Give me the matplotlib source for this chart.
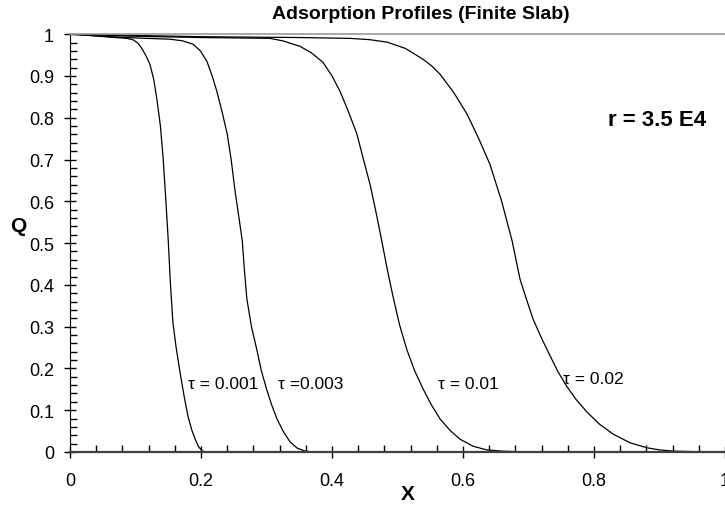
import matplotlib
matplotlib.use("Agg")
import matplotlib.pyplot as plt
from matplotlib.ticker import MultipleLocator, FuncFormatter

plt.rcParams['font.family'] = ['Liberation Sans', 'DejaVu Sans']

# profiles
x_001 = [0.0, 0.03, 0.06, 0.087, 0.097, 0.104, 0.110, 0.116, 0.122, 0.128, 0.133, 0.138, 0.142,
         0.146, 0.150, 0.153, 0.157, 0.162, 0.168, 0.174, 0.180, 0.186, 0.191, 0.196, 0.202, 0.21]
q_001 = [1.0, 0.997, 0.993, 0.99, 0.986, 0.978, 0.965, 0.948, 0.928, 0.89, 0.84, 0.78, 0.706,
         0.61, 0.505, 0.41, 0.311, 0.25, 0.19, 0.135, 0.086, 0.052, 0.031, 0.013, 0.002, 0.0]

x_003 = [0.0, 0.05, 0.10, 0.153, 0.172, 0.188, 0.199, 0.209, 0.217, 0.224, 0.232, 0.240, 0.246,
         0.252, 0.258, 0.263, 0.266, 0.270, 0.277, 0.285, 0.292, 0.300, 0.308, 0.316, 0.326,
         0.336, 0.347, 0.359, 0.37]
q_003 = [1.0, 0.995, 0.991, 0.988, 0.984, 0.976, 0.96, 0.935, 0.90, 0.864, 0.815, 0.761, 0.70,
         0.624, 0.56, 0.505, 0.44, 0.366, 0.30, 0.246, 0.195, 0.151, 0.112, 0.079, 0.048,
         0.024, 0.009, 0.002, 0.0]

x_01 = [0.0, 0.1, 0.2, 0.305, 0.325, 0.341, 0.351, 0.368, 0.386, 0.400, 0.412, 0.425, 0.438,
        0.448, 0.458, 0.467, 0.476, 0.484, 0.493, 0.503, 0.514, 0.526, 0.539, 0.552, 0.565,
        0.580, 0.595, 0.615, 0.636, 0.66, 0.70]
q_01 = [1.0, 0.995, 0.992, 0.99, 0.984, 0.976, 0.971, 0.956, 0.933, 0.90, 0.864, 0.815, 0.761,
        0.70, 0.641, 0.575, 0.505, 0.44, 0.373, 0.305, 0.246, 0.195, 0.151, 0.112, 0.079,
        0.052, 0.031, 0.014, 0.005, 0.002, 0.0]

x_02 = [0.0, 0.2, 0.35, 0.427, 0.457, 0.484, 0.512, 0.539, 0.553, 0.565, 0.586, 0.606, 0.624,
        0.641, 0.659, 0.675, 0.687, 0.697, 0.707, 0.720, 0.733, 0.745, 0.758, 0.773, 0.789,
        0.808, 0.829, 0.855, 0.881, 0.90, 0.921, 0.95, 0.98]
q_02 = [1.0, 0.994, 0.992, 0.99, 0.987, 0.981, 0.966, 0.940, 0.923, 0.904, 0.86, 0.809, 0.75,
        0.689, 0.60, 0.505, 0.414, 0.365, 0.318, 0.272, 0.230, 0.192, 0.158, 0.125, 0.096,
        0.067, 0.043, 0.022, 0.010, 0.005, 0.002, 0.001, 0.0]

labels = ["\u03c4 = 0.001", "\u03c4 =0.003", "\u03c4 = 0.01", "\u03c4 = 0.02"]
label_x = [0.18, 0.318, 0.562, 0.753]
label_y = [0.163, 0.163, 0.163, 0.175]

fig = plt.figure(figsize=(7.25, 5.1), dpi=100)
ax = fig.add_axes([0.0966, 0.1118, 0.9034, 0.8192])

for xs, qs in [(x_001, q_001), (x_003, q_003), (x_01, q_01), (x_02, q_02)]:
    ax.plot(xs, qs, color='black', lw=0.9)

for t, lx, ly in zip(labels, label_x, label_y):
    ax.text(lx, ly, t, fontsize=12.5, va='center', ha='left')

ax.text(0.821, 0.797, "r = 3.5 E4", fontsize=16, fontweight='bold', va='center', ha='left')

ax.set_xlim(0, 1)
ax.set_ylim(0, 1)
ax.xaxis.set_major_locator(MultipleLocator(0.2))
ax.xaxis.set_minor_locator(MultipleLocator(0.04))
ax.yaxis.set_major_locator(MultipleLocator(0.1))
ax.yaxis.set_minor_locator(MultipleLocator(0.02))
fmt = FuncFormatter(lambda v, p: "%g" % round(v, 2))
ax.xaxis.set_major_formatter(fmt)
ax.yaxis.set_major_formatter(fmt)
ax.tick_params(which='major', direction='inout', length=9, width=1, labelsize=13)
ax.tick_params(which='minor', direction='in', length=5, width=1)
ax.tick_params(axis='x', which='major', pad=10)
ax.tick_params(axis='y', which='major', pad=7)

ax.spines['right'].set_visible(False)
ax.spines['top'].set_color('#999999')
ax.spines['top'].set_linewidth(1.2)
ax.spines['bottom'].set_color('#404040')
ax.spines['bottom'].set_linewidth(1.6)
ax.spines['left'].set_color('black')

fig.text(0.581, 0.971, "Adsorption Profiles (Finite Slab)", fontsize=14, fontweight='bold',
         ha='center', va='center')
fig.text(408 / 725, 1 - 495 / 510, "X", fontsize=15, fontweight='bold', ha='center', va='center')
fig.text(18.5 / 725, 1 - 227 / 510, "Q", fontsize=15, fontweight='bold', ha='center', va='center')

fig.savefig("out.png", dpi=100)
